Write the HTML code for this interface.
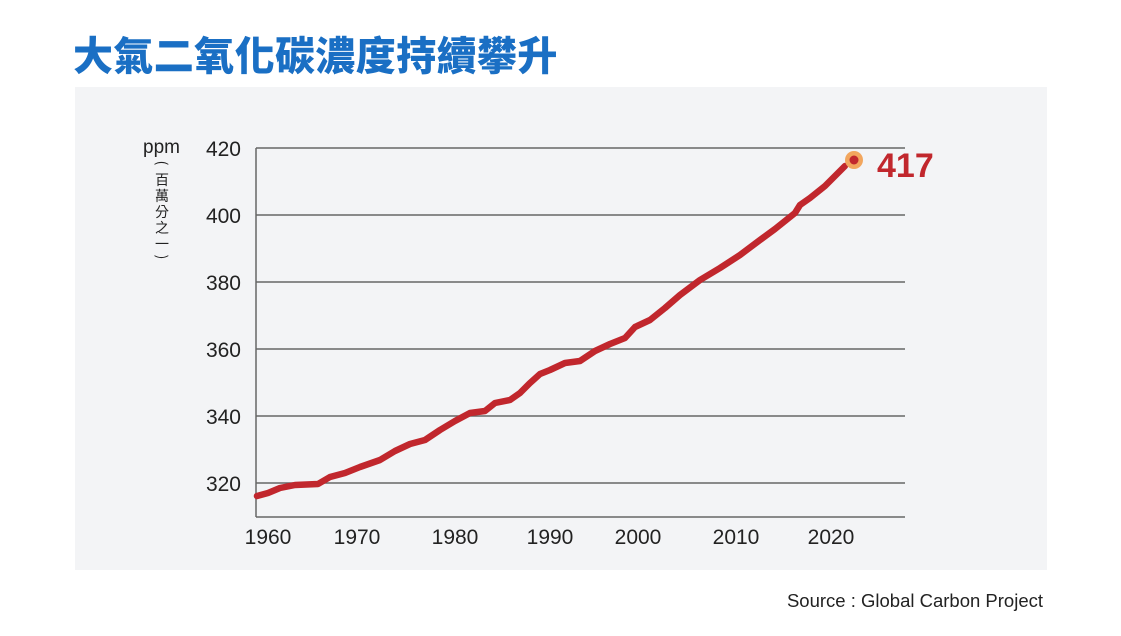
<!DOCTYPE html>
<html><head><meta charset="utf-8"><style>
body{margin:0;width:1121px;height:631px;background:#fff;overflow:hidden;font-family:"Liberation Sans","Noto Sans CJK TC",sans-serif}
</style></head><body>
<svg width="1121" height="631" xmlns="http://www.w3.org/2000/svg" font-family="Liberation Sans, Noto Sans CJK TC, sans-serif">
<text x="73" y="70" font-size="40" font-weight="900" letter-spacing="0.4" fill="#1a6fc4" font-family="Noto Sans CJK TC, sans-serif">大氣二氧化碳濃度持續攀升</text>
<rect x="75" y="87" width="972" height="483" fill="#f3f4f6"/>
<g stroke="#666" stroke-width="1.5">
<line x1="256" y1="148" x2="905" y2="148"/>
<line x1="256" y1="215" x2="905" y2="215"/>
<line x1="256" y1="282" x2="905" y2="282"/>
<line x1="256" y1="349" x2="905" y2="349"/>
<line x1="256" y1="416" x2="905" y2="416"/>
<line x1="256" y1="483" x2="905" y2="483"/>
<line x1="256" y1="517" x2="905" y2="517"/>
<line x1="256" y1="148" x2="256" y2="517"/>
</g>
<g font-size="21" fill="#222" text-anchor="end">
<text x="241" y="156">420</text><text x="241" y="223">400</text><text x="241" y="290">380</text>
<text x="241" y="357">360</text><text x="241" y="424">340</text><text x="241" y="491">320</text>
</g>
<text x="143" y="153" font-size="19" fill="#222">ppm</text>
<g font-size="14" fill="#222" text-anchor="middle" font-family="Noto Sans CJK TC, sans-serif">
<text x="162" y="168" transform="rotate(90 162 163)">(</text>
<text x="162" y="185">百</text><text x="162" y="201">萬</text><text x="162" y="217">分</text><text x="162" y="233">之</text><text x="162" y="249">一</text>
<text x="162" y="262" transform="rotate(90 162 257)">)</text>
</g>
<g font-size="21" fill="#222" text-anchor="middle">
<text x="268" y="544">1960</text><text x="357" y="544">1970</text><text x="455" y="544">1980</text>
<text x="550" y="544">1990</text><text x="638" y="544">2000</text><text x="736" y="544">2010</text><text x="831" y="544">2020</text>
</g>
<polyline fill="none" stroke="#c1272d" stroke-width="6.5" stroke-linejoin="round" stroke-linecap="round" points="257,496 268,493 280,488 295,485 318,484 330,477 345,473 360,467 380,460 395,451 410,444 425,440 440,430 455,421 470,413 485,411 495,403 510,400 520,393 530,383 540,374 550,370 565,363 580,361 595,351 610,344 625,338 635,327 650,320 665,308 680,295 700,280 720,268 740,255 760,240 775,229 795,213 800,205 810,198 825,186 845,166"/>
<circle cx="854" cy="160" r="9" fill="#f2a65e"/>
<circle cx="854" cy="160" r="4.5" fill="#c1272d"/>
<text x="877" y="177" font-size="34" font-weight="bold" fill="#c1272d">417</text>
<text x="1043" y="607" font-size="18.5" fill="#222" text-anchor="end">Source : Global Carbon Project</text>
</svg>
</body></html>
